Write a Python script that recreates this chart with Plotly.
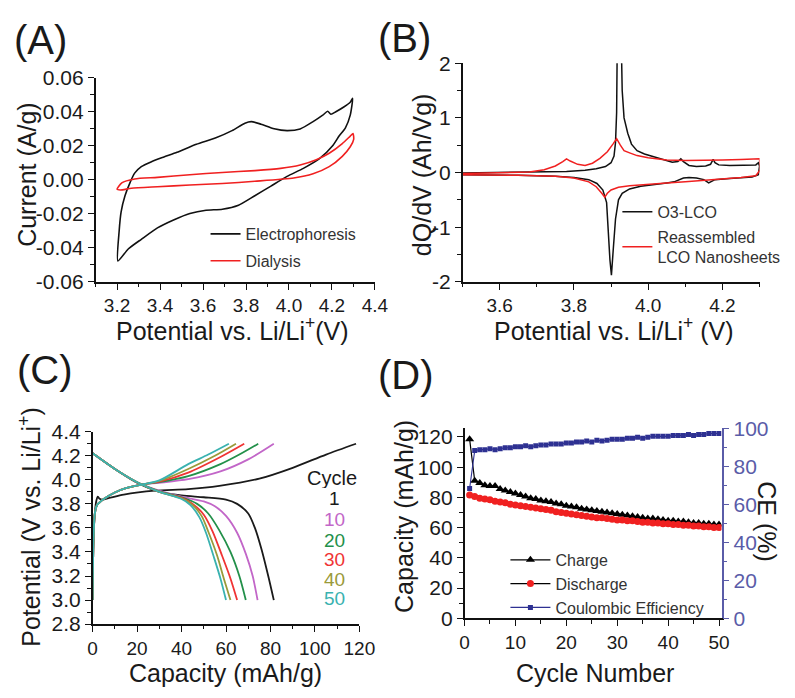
import plotly.graph_objects as go

W, H = 795, 698
FONT = "Liberation Sans, Arial, sans-serif"

# ---------------- (A) cyclic voltammetry ----------------
ephor_potential = [3.204, 3.210, 3.219, 3.237, 3.260, 3.282, 3.313, 3.358, 3.418, 3.479, 3.569,
                   3.660, 3.735, 3.795, 3.825, 3.870, 3.931, 3.991, 4.052, 4.112, 4.157, 4.180,
                   4.195, 4.218, 4.255, 4.285, 4.296,
                   4.285, 4.262, 4.233, 4.203, 4.142, 4.067, 3.991, 3.916, 3.841, 3.765, 3.690,
                   3.614, 3.539, 3.463, 3.388, 3.313, 3.252, 3.204]
ephor_current = [-0.0477, -0.0300, -0.0189, -0.0094, -0.0018, 0.0039, 0.0077, 0.0105, 0.0134, 0.0162,
                 0.0209, 0.0247, 0.0289, 0.0333, 0.0342, 0.0327, 0.0300, 0.0289, 0.0299, 0.0342,
                 0.0380, 0.0403, 0.0385, 0.0400, 0.0428, 0.0456, 0.0479,
                 0.0380, 0.0304, 0.0257, 0.0200, 0.0124, 0.0067, 0.0020, -0.0037, -0.0094, -0.0150,
                 -0.0173, -0.0179, -0.0198, -0.0236, -0.0283, -0.0350, -0.0407, -0.0477]

dial_potential = [3.200, 3.222, 3.282, 3.388, 3.539, 3.690, 3.841, 3.961, 4.052, 4.127, 4.187,
                  4.248, 4.285, 4.298, 4.301, 4.285, 4.248, 4.187, 4.112, 4.022, 3.841, 3.690,
                  3.539, 3.388, 3.267, 3.215, 3.200]
dial_current = [-0.0056, -0.0018, 0.0005, 0.0014, 0.0030, 0.0043, 0.0054, 0.0067, 0.0087, 0.0118,
                0.0156, 0.0213, 0.0257, 0.0272, 0.0238, 0.0194, 0.0138, 0.0077, 0.0035, 0.0010,
                -0.0009, -0.0022, -0.0031, -0.0041, -0.0050, -0.0060, -0.0056]

a_xticks = [3.2, 3.4, 3.6, 3.8, 4.0, 4.2, 4.4]
a_yticks = [-0.06, -0.04, -0.02, 0.00, 0.02, 0.04, 0.06]
a_ytext = ["-0.06", "-0.04", "-0.02", "0.00", "0.02", "0.04", "0.06"]

# ---------------- (B) differential capacity ----------------
o3_potential = [3.50, 3.60, 3.70, 3.78, 3.83, 3.86, 3.885, 3.90, 3.908, 3.912, 3.915, 3.917, 3.927,
                3.930, 3.935, 3.945, 3.955, 3.97, 3.99, 4.01, 4.04, 4.065, 4.08, 4.088, 4.095,
                4.11, 4.13, 4.155, 4.168, 4.175, 4.18, 4.19, 4.22, 4.26, 4.29, 4.297, 4.30,
                4.297, 4.28, 4.22, 4.18, 4.163, 4.15, 4.13, 4.11, 4.095, 4.08, 4.07, 4.05, 4.02,
                3.98, 3.95, 3.93, 3.92, 3.912, 3.906, 3.901, 3.897, 3.893, 3.888, 3.878, 3.862,
                3.84, 3.80, 3.75, 3.65, 3.50]
o3_dqdv = [-0.01, 0.00, 0.01, 0.02, 0.04, 0.07, 0.11, 0.18, 0.30, 0.55, 1.10, 2.60, 2.60,
           1.50, 1.00, 0.72, 0.52, 0.40, 0.34, 0.30, 0.25, 0.19, 0.20, 0.25, 0.20,
           0.13, 0.11, 0.12, 0.15, 0.24, 0.18, 0.14, 0.13, 0.13, 0.14, 0.18, 0.12,
           -0.04, -0.08, -0.11, -0.13, -0.19, -0.13, -0.10, -0.09, -0.10, -0.15, -0.17, -0.19, -0.21,
           -0.25, -0.30, -0.38, -0.50, -0.85, -1.40, -1.88, -1.60, -1.00, -0.55, -0.32, -0.20,
           -0.13, -0.09, -0.07, -0.05, -0.04]

nano_potential = [3.50, 3.60, 3.68, 3.72, 3.75, 3.77, 3.78, 3.79, 3.81, 3.83, 3.85, 3.87, 3.89,
                  3.905, 3.915, 3.925, 3.935, 3.95, 3.97, 4.00, 4.05, 4.10, 4.15, 4.20, 4.25,
                  4.29, 4.30, 4.302, 4.29, 4.25, 4.20, 4.15, 4.10, 4.05, 4.00, 3.95, 3.92, 3.90,
                  3.89, 3.883, 3.875, 3.86, 3.84, 3.80, 3.75, 3.65, 3.50]
nano_dqdv = [-0.02, -0.01, 0.01, 0.05, 0.12, 0.20, 0.25, 0.21, 0.15, 0.13, 0.17, 0.26, 0.38,
             0.52, 0.62, 0.50, 0.40, 0.36, 0.31, 0.27, 0.23, 0.22, 0.22, 0.23, 0.24,
             0.25, 0.25, 0.05, -0.06, -0.09, -0.12, -0.15, -0.17, -0.19, -0.21, -0.24, -0.27, -0.32,
             -0.38, -0.45, -0.38, -0.26, -0.17, -0.10, -0.07, -0.05, -0.04]

b_xticks = [3.6, 3.8, 4.0, 4.2]
b_yticks = [-2, -1, 0, 1, 2]
b_ytext = ["-2", "-1", "0", "1", "2"]

# ---------------- (C) charge / discharge profiles ----------------
cycles_c = ["1", "10", "20", "30", "40", "50"]
cycle_colors = ["#1a1a1a", "#c266c8", "#23904a", "#f03434", "#9a9a3a", "#3ab2b0"]

charge_cap = {
    "1": [0, 0.4, 1.0, 1.6, 2.3, 3.0, 4.3, 8, 14, 28, 43, 57, 75, 90, 105, 118.5],
    "10": [0, 0.4, 1.0, 2.0, 5, 10, 15, 22, 30, 43, 57.5, 70, 81.5],
    "20": [0, 0.4, 1.0, 2.0, 5, 10, 15, 22, 30, 43, 57.5, 66, 74.5],
    "30": [0, 0.4, 1.0, 2.0, 5, 10, 15, 22, 30, 43, 57.5, 68.2],
    "40": [0, 0.4, 1.0, 2.0, 5, 10, 15, 22, 30, 43, 55, 64.5],
    "50": [0, 0.4, 1.0, 2.0, 5, 10, 15, 22, 30, 43, 52, 61.3],
}
charge_v = {
    "1": [3.00, 3.50, 3.72, 3.82, 3.86, 3.845, 3.835, 3.851, 3.877, 3.91, 3.923, 3.95, 4.01, 4.10, 4.21, 4.30],
    "10": [3.00, 3.50, 3.72, 3.79, 3.84, 3.895, 3.93, 3.96, 3.975, 4.005, 4.07, 4.17, 4.30],
    "20": [3.00, 3.50, 3.72, 3.79, 3.84, 3.895, 3.93, 3.96, 3.98, 4.03, 4.13, 4.21, 4.30],
    "30": [3.00, 3.50, 3.72, 3.79, 3.84, 3.895, 3.93, 3.96, 3.985, 4.06, 4.19, 4.30],
    "40": [3.00, 3.50, 3.72, 3.79, 3.84, 3.895, 3.93, 3.96, 3.99, 4.09, 4.20, 4.30],
    "50": [3.00, 3.50, 3.72, 3.79, 3.84, 3.895, 3.93, 3.96, 3.995, 4.13, 4.21, 4.30],
}
discharge_cap = {
    "1": [0, 10, 20, 30, 40, 50, 60, 65, 70, 73, 76, 79, 81.5],
    "10": [0, 10, 20, 30, 40, 50, 55, 60, 65, 69, 72, 74.2],
    "20": [0, 10, 20, 30, 40, 47, 52, 57, 62, 66, 68.9],
    "30": [0, 10, 20, 30, 40, 45, 50, 54, 58, 62, 65],
    "40": [0, 10, 20, 30, 40, 45, 49, 52, 56, 59, 62],
    "50": [0, 10, 20, 30, 40, 44, 48, 51, 54.5, 57.5, 60],
}
discharge_v = {
    "1": [4.22, 4.09, 3.975, 3.90, 3.87, 3.855, 3.835, 3.80, 3.72, 3.60, 3.42, 3.20, 3.00],
    "10": [4.22, 4.09, 3.98, 3.91, 3.86, 3.82, 3.78, 3.70, 3.56, 3.38, 3.20, 3.00],
    "20": [4.22, 4.09, 3.98, 3.905, 3.855, 3.80, 3.72, 3.58, 3.40, 3.20, 3.00],
    "30": [4.22, 4.09, 3.98, 3.90, 3.85, 3.80, 3.71, 3.57, 3.38, 3.18, 3.00],
    "40": [4.22, 4.09, 3.98, 3.90, 3.845, 3.79, 3.70, 3.57, 3.37, 3.18, 3.00],
    "50": [4.22, 4.09, 3.98, 3.90, 3.84, 3.79, 3.69, 3.56, 3.36, 3.18, 3.00],
}
c_xticks = [0, 20, 40, 60, 80, 100, 120]
c_yticks = [2.8, 3.0, 3.2, 3.4, 3.6, 3.8, 4.0, 4.2, 4.4]

# ---------------- (D) cycling performance ----------------
cycle_no = list(range(1, 51))
charge_capacity = [118.5, 91, 89.5, 88, 87.5, 87.5, 85.5, 84.5, 83.5, 82.5,
                   81.5, 80.5, 79.5, 79, 78, 77.5, 77, 76, 75.5, 74.5,
                   74, 73.5, 72.5, 72, 71.5, 71, 70.5, 70, 69.5, 69,
                   68.5, 68, 67.5, 67, 66.5, 66, 66, 65.5, 65, 64.5,
                   64.5, 64, 64, 63.5, 63, 63, 62.5, 62.5, 62, 62]
discharge_capacity = [81.5, 80.5, 79.5, 79, 78.5, 77.5, 77, 76.5, 75.5, 75,
                      74.5, 74, 73.5, 73, 72.5, 72, 71.5, 70.5, 70, 69.5,
                      69, 68.5, 68, 67.5, 67, 66.5, 66.5, 66, 65.5, 65,
                      65, 64.5, 64.5, 64, 63.5, 63.5, 63, 63, 62.5, 62.5,
                      62, 62, 61.5, 61.5, 61, 61, 60.5, 60.5, 60, 60]
coulombic_eff = [68.5, 88.5, 89, 89, 89.5, 89, 89.5, 90, 90, 90.5,
                 90.5, 91, 90.5, 91, 91.5, 91.5, 92, 92, 92, 92.5,
                 92.5, 93, 93, 93.5, 93, 94, 93.5, 94, 94.5, 94.5,
                 94.5, 95, 95, 95.5, 95, 95.5, 96, 96, 96, 96,
                 96.5, 96.5, 96.5, 97, 96.5, 97, 97, 97.5, 97.5, 97.5]
d_xticks = [0, 10, 20, 30, 40, 50]
d_yticks = [0, 20, 40, 60, 80, 100, 120]
d_y2ticks = [0, 20, 40, 60, 80, 100]

CE_BLUE = "#2e3192"
AXIS_BLUE = "#5a5ca8"
INK = "#1a1a1a"


def px(x):
    return x / W


def py(y):
    return 1 - y / H


fig = go.Figure()

# (A)
fig.add_trace(go.Scatter(x=ephor_potential, y=ephor_current, mode="lines", name="Electrophoresis",
                         line=dict(color="#111111", width=1.6, shape="spline", smoothing=0.6),
                         xaxis="x", yaxis="y", legend="legend", legendgroup="a1"))
fig.add_trace(go.Scatter(x=dial_potential, y=dial_current, mode="lines", name="Dialysis",
                         line=dict(color="#f02020", width=1.6, shape="spline", smoothing=0.6),
                         xaxis="x", yaxis="y", legend="legend", legendgroup="a2"))

# (B)
fig.add_trace(go.Scatter(x=o3_potential, y=o3_dqdv, mode="lines", name="O3-LCO",
                         line=dict(color="#111111", width=1.5),
                         xaxis="x2", yaxis="y2", legend="legend2", legendgroup="b1"))
fig.add_trace(go.Scatter(x=nano_potential, y=nano_dqdv, mode="lines",
                         name="Reassembled<br>LCO Nanosheets",
                         line=dict(color="#f02020", width=1.5),
                         xaxis="x2", yaxis="y2", legend="legend2", legendgroup="b2"))

# (C)
for cyc, col in zip(cycles_c, cycle_colors):
    fig.add_trace(go.Scatter(x=charge_cap[cyc], y=charge_v[cyc], mode="lines", showlegend=False,
                             line=dict(color=col, width=1.8, shape="spline", smoothing=0.8),
                             xaxis="x3", yaxis="y3"))
    fig.add_trace(go.Scatter(x=discharge_cap[cyc], y=discharge_v[cyc], mode="lines", showlegend=False,
                             line=dict(color=col, width=1.8, shape="spline", smoothing=0.8),
                             xaxis="x3", yaxis="y3"))

# (D)
fig.add_trace(go.Scatter(x=cycle_no, y=charge_capacity, mode="lines+markers", name="Charge",
                         line=dict(color="#000000", width=1.2),
                         marker=dict(symbol="triangle-up", size=8, color="#000000"),
                         xaxis="x4", yaxis="y4", legend="legend3", legendgroup="d1"))
fig.add_trace(go.Scatter(x=cycle_no, y=discharge_capacity, mode="lines+markers", name="Discharge",
                         line=dict(color="#000000", width=1.2),
                         marker=dict(symbol="circle", size=7, color="#f02020"),
                         xaxis="x4", yaxis="y4", legend="legend3", legendgroup="d2"))
fig.add_trace(go.Scatter(x=cycle_no, y=coulombic_eff, mode="lines+markers", name="Coulombic Efficiency",
                         line=dict(color=CE_BLUE, width=1.1),
                         marker=dict(symbol="square", size=5, color=CE_BLUE),
                         xaxis="x4", yaxis="y5", legend="legend3", legendgroup="d3"))

xtickfont = dict(family=FONT, size=19, color=INK)
ytickfont = dict(family=FONT, size=21, color=INK)


def ax(domain, rng, tickvals, tickfont, ticktext=None, minor_dtick=None, anchor=None, **kw):
    d = dict(domain=domain, range=rng, tickmode="array", tickvals=tickvals,
             showline=True, linecolor="#111111", linewidth=1.5, ticks="outside",
             ticklen=6, tickwidth=1.3, tickcolor="#111111", showgrid=False, zeroline=False,
             tickfont=tickfont, anchor=anchor, fixedrange=True)
    if ticktext is not None:
        d["ticktext"] = ticktext
    if minor_dtick is not None:
        d["minor"] = dict(dtick=minor_dtick, ticks="outside", ticklen=3.5, tickwidth=1.2,
                          tickcolor="#111111", showgrid=False)
    d.update(kw)
    return d


layout = dict(
    width=W, height=H, margin=dict(l=0, r=0, t=0, b=0),
    paper_bgcolor="white", plot_bgcolor="white",
    font=dict(family=FONT, color=INK),
    xaxis=ax([px(93), px(380)], [3.1, 4.4], a_xticks, xtickfont, [f"{v:.1f}" for v in a_xticks],
             minor_dtick=0.1, anchor="y", tick0=3.1),
    yaxis=ax([py(279), py(68)], [-0.06, 0.06], a_yticks, ytickfont, a_ytext,
             minor_dtick=0.01, anchor="x"),
    xaxis2=ax([px(470), px(775)], [3.5, 4.3], b_xticks, xtickfont, [f"{v:.1f}" for v in b_xticks],
              minor_dtick=0.1, anchor="y2"),
    yaxis2=ax([py(279), py(53)], [-2, 2], b_yticks, ytickfont, b_ytext, minor_dtick=0.5, anchor="x2"),
    xaxis3=ax([px(90), px(364)], [0, 120], c_xticks, xtickfont, minor_dtick=10, anchor="y3"),
    yaxis3=ax([py(633), py(434)], [2.8, 4.4], c_yticks, ytickfont, [f"{v:.1f}" for v in c_yticks],
              minor_dtick=0.1, anchor="x3"),
    xaxis4=ax([px(472), px(736)], [0, 50.5], d_xticks, xtickfont, minor_dtick=5, anchor="y4"),
    yaxis4=ax([py(627), py(430)], [0, 126], d_yticks, ytickfont, minor_dtick=10, anchor="x4"),
    xaxis5=dict(domain=[px(472), px(736)], range=[0, 50.5], overlaying="x4", side="top",
                anchor="y4", showline=True, linecolor="#111111", linewidth=1.5,
                ticks="inside", ticklen=4, tickwidth=1.2, tickcolor="#111111",
                tickmode="linear", tick0=0, dtick=5, showticklabels=False,
                showgrid=False, zeroline=False, fixedrange=True),
    yaxis5=dict(domain=[py(627), py(430)], range=[0, 100.5], overlaying="y4", side="right",
                anchor="x4", showline=True, linecolor=AXIS_BLUE, linewidth=1.5,
                ticks="outside", ticklen=6, tickwidth=1.3, tickcolor=AXIS_BLUE,
                tickmode="array", tickvals=d_y2ticks,
                minor=dict(dtick=10, ticks="outside", ticklen=3.5, tickwidth=1.2,
                           tickcolor=AXIS_BLUE, showgrid=False),
                tickfont=dict(family=FONT, size=21, color=AXIS_BLUE),
                showgrid=False, zeroline=False, fixedrange=True),
    legend=dict(x=px(206), y=py(212), xanchor="left", yanchor="top", bgcolor="rgba(0,0,0,0)",
                font=dict(family=FONT, size=16, color="#333333"), itemwidth=30,
                tracegroupgap=3),
    legend2=dict(x=px(629), y=py(189), xanchor="left", yanchor="top", bgcolor="rgba(0,0,0,0)",
                 font=dict(family=FONT, size=16, color="#333333"), itemwidth=30,
                 tracegroupgap=1),
    legend3=dict(x=px(514), y=py(549), xanchor="left", yanchor="top", bgcolor="rgba(0,0,0,0)",
                 font=dict(family=FONT, size=16, color="#333333"), itemwidth=40,
                 tracegroupgap=0),
)
fig.update_layout(**layout)

title_font = dict(family=FONT, size=25, color=INK)
label_font = dict(family=FONT, size=40, color=INK)
annotations = [
    # panel labels
    dict(text="(A)", x=px(36), y=py(29), font=label_font),
    dict(text="(B)", x=px(410), y=py(27), font=label_font),
    dict(text="(C)", x=px(41), y=py(370), font=label_font),
    dict(text="(D)", x=px(412), y=py(375), font=label_font),
    # axis titles
    dict(text="Current (A/g)", x=px(23), y=py(168), textangle=-90, font=title_font),
    dict(text="Potential vs. Li/Li<sup>+</sup>(V)", x=px(234), y=py(328), font=title_font),
    dict(text="dQ/dV (Ah/Vg)", x=px(429), y=py(168), textangle=-90, font=title_font),
    dict(text="Potential vs. Li/Li<sup>+</sup> (V)", x=px(626), y=py(328), font=title_font),
    dict(text="Potential (V vs. Li/Li<sup>+</sup>)", x=px(26), y=py(532), textangle=-90, font=title_font),
    dict(text="Capacity (mAh/g)", x=px(226), y=py(684), font=title_font),
    dict(text="Capacity (mAh/g)", x=px(410), y=py(522), textangle=-90, font=title_font),
    dict(text="CE (%)", x=px(783), y=py(527), textangle=90, font=title_font),
    dict(text="Cycle Number", x=px(606), y=py(684), font=title_font),
    # cycle key for (C)
    dict(text="Cycle", x=px(336), y=py(482), height=20, font=dict(family=FONT, size=20, color=INK)),
]
cycle_label_y = [503, 525, 546, 566, 587, 607]
for cyc, col, yy in zip(cycles_c, cycle_colors, cycle_label_y):
    annotations.append(dict(text=cyc, x=px(338), y=py(yy), height=19,
                            font=dict(family=FONT, size=19, color=col)))

for a in annotations:
    a.update(xref="paper", yref="paper", showarrow=False, xanchor="center", yanchor="middle")
fig.update_layout(annotations=annotations)

fig.write_html("out.html")
